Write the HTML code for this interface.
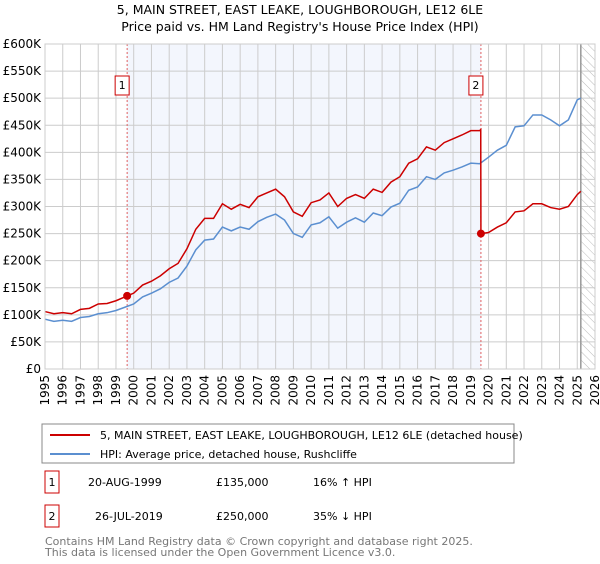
<!DOCTYPE html>
<html><head><meta charset="utf-8"><style>
body{margin:0;background:#fff;font-family:"DejaVu Sans","Liberation Sans",sans-serif;}
svg text{font-family:"DejaVu Sans","Liberation Sans",sans-serif;}
</style></head><body>
<svg width="600" height="560" viewBox="0 0 600 560" id="c">
<defs><pattern id="hatch" width="6" height="6" patternUnits="userSpaceOnUse" patternTransform="rotate(-45)"><line x1="0" y1="0" x2="0" y2="6" stroke="#bbb" stroke-width="1"/></pattern></defs>
<text x="300" y="14" text-anchor="middle" font-size="12.5">5, MAIN STREET, EAST LEAKE, LOUGHBOROUGH, LE12 6LE</text>
<text x="300" y="31" text-anchor="middle" font-size="12.5">Price paid vs. HM Land Registry's House Price Index (HPI)</text>
<g id="plot"></g>
<rect x="42" y="424" width="472" height="39" fill="#fff" stroke="#888"/>
<line x1="50" y1="435" x2="90" y2="435" stroke="#cc0000" stroke-width="2"/>
<text x="100" y="439" font-size="11">5, MAIN STREET, EAST LEAKE, LOUGHBOROUGH, LE12 6LE (detached house)</text>
<line x1="50" y1="454" x2="90" y2="454" stroke="#5b8fd0" stroke-width="2"/>
<text x="100" y="458" font-size="11">HPI: Average price, detached house, Rushcliffe</text>
<rect x="45" y="471" width="14" height="22" fill="#fff" stroke="#cc0000"/>
<text x="52" y="486" text-anchor="middle" font-size="11">1</text>
<text x="88" y="486" font-size="11">20-AUG-1999</text>
<text x="216" y="486" font-size="11">£135,000</text>
<text x="313" y="486" font-size="11">16% ↑ HPI</text>
<rect x="45" y="505" width="14" height="22" fill="#fff" stroke="#cc0000"/>
<text x="52" y="520" text-anchor="middle" font-size="11">2</text>
<text x="95" y="520" font-size="11">26-JUL-2019</text>
<text x="216" y="520" font-size="11">£250,000</text>
<text x="313" y="520" font-size="11">35% ↓ HPI</text>
<text x="45" y="545" font-size="11" fill="#777">Contains HM Land Registry data © Crown copyright and database right 2025.</text>
<text x="45" y="556" font-size="11" fill="#777">This data is licensed under the Open Government Licence v3.0.</text>
</svg>
<script>
const hpiYears=[1995,1995.5,1996,1996.5,1997,1997.5,1998,1998.5,1999,1999.5,2000,2000.5,2001,2001.5,2002,2002.5,2003,2003.5,2004,2004.5,2005,2005.5,2006,2006.5,2007,2007.5,2008,2008.5,2009,2009.5,2010,2010.5,2011,2011.5,2012,2012.5,2013,2013.5,2014,2014.5,2015,2015.5,2016,2016.5,2017,2017.5,2018,2018.5,2019,2019.5,2020,2020.5,2021,2021.5,2022,2022.5,2023,2023.5,2024,2024.5,2025,2025.2];
const hpiValues=[92,88,90,88,95,97,102,104,108,114,120,133,140,148,160,168,190,220,238,240,262,255,262,258,272,280,286,275,250,243,266,270,281,260,271,279,271,288,283,299,306,330,336,355,350,362,367,373,380,379,391,404,413,447,449,469,469,460,449,460,497,500];
const redYears=[1995,1995.5,1996,1996.5,1997,1997.5,1998,1998.5,1999,1999.5,1999.63,2000,2000.5,2001,2001.5,2002,2002.5,2003,2003.5,2004,2004.5,2005,2005.5,2006,2006.5,2007,2007.5,2008,2008.5,2009,2009.5,2010,2010.5,2011,2011.5,2012,2012.5,2013,2013.5,2014,2014.5,2015,2015.5,2016,2016.5,2017,2017.5,2018,2018.5,2019,2019.5,2019.56,2019.57,2020,2020.5,2021,2021.5,2022,2022.5,2023,2023.5,2024,2024.5,2025,2025.2];
const redValues=[106,102,104,102,110,112,120,121,126,133,135,140,155,162,172,185,195,222,258,278,278,305,295,304,298,318,325,332,318,290,282,307,312,325,300,315,322,315,332,326,345,355,380,388,410,404,418,425,432,440,440,442,250,252,262,270,290,292,305,305,298,295,300,322,328];
const saleYears=[1999.63,2019.57];
const saleValues=[135,250];
const saleLabels=["1","2"];
const yTicks=[0,50,100,150,200,250,300,350,400,450,500,550,600];
const yTickLabels=["£0","£50K","£100K","£150K","£200K","£250K","£300K","£350K","£400K","£450K","£500K","£550K","£600K"];
const xTicks=[1995,1996,1997,1998,1999,2000,2001,2002,2003,2004,2005,2006,2007,2008,2009,2010,2011,2012,2013,2014,2015,2016,2017,2018,2019,2020,2021,2022,2023,2024,2025,2026];
const dataEnd=2025.2;

const X0=45,X1=595,Y0=369,Y1=44;
const xs=y=>X0+(y-1995)/(2026-1995)*(X1-X0);
const ys=v=>Y0-v/600*(Y0-Y1);
const NS="http://www.w3.org/2000/svg";
const g=document.getElementById('plot');
function mk(t,a,p){const e=document.createElementNS(NS,t);for(const k in a)e.setAttribute(k,a[k]);(p||g).appendChild(e);return e;}
let e;
e=mk('rect',{x:xs(saleYears[0]),y:Y1,width:xs(saleYears[1])-xs(saleYears[0]),height:Y0-Y1,fill:'#f3f6fd'});


e=mk('rect',{x:xs(dataEnd),y:Y1,width:X1-xs(dataEnd),height:Y0-Y1,fill:'url(#hatch)'});


yTicks.forEach((v,i)=>{
 e=mk('line',{x1:X0,x2:X1,y1:ys(v),y2:ys(v),stroke:'#ccc','stroke-width':1});
 
 
 e=mk('text',{x:X0-4,y:ys(v)+4,'text-anchor':'end','font-size':12});
 e.textContent=yTickLabels[i];
 
 
});
xTicks.forEach(y=>{
 e=mk('line',{x1:xs(y),x2:xs(y),y1:Y1,y2:Y0,stroke:'#ccc','stroke-width':1});
 
 
 e=mk('text',{x:0,y:0,'text-anchor':'end','font-size':12,transform:`translate(${xs(y)+4},${Y0+6}) rotate(-90)`});
 e.textContent=y;
 
 
});
e=mk('line',{x1:xs(dataEnd),x2:xs(dataEnd),y1:Y1,y2:Y0,stroke:'#999','stroke-width':1.5});


saleYears.forEach((y,i)=>{
 e=mk('line',{x1:xs(y),x2:xs(y),y1:Y1,y2:Y0,stroke:'#e06060','stroke-width':1,'stroke-dasharray':'2,2'});
 
 
 e=mk('rect',{x:xs(y)-12,y:76,width:14,height:19,fill:'#fff',stroke:'#cc0000'});
 
 
 e=mk('text',{x:xs(y)-5,y:89,'text-anchor':'middle','font-size':11});
 e.textContent=saleLabels[i];
 
 
});
e=mk('polyline',{points:hpiYears.map((y,i)=>xs(y)+','+ys(hpiValues[i])).join(' '),fill:'none',stroke:'#5b8fd0','stroke-width':1.5});


e=mk('polyline',{points:redYears.map((y,i)=>xs(y)+','+ys(redValues[i])).join(' '),fill:'none',stroke:'#cc0000','stroke-width':1.5});


saleYears.forEach((y,i)=>{
 e=mk('circle',{cx:xs(y),cy:ys(saleValues[i]),r:4,fill:'#cc0000'});
 
 
});
e=mk('rect',{x:X0,y:Y1,width:X1-X0,height:Y0-Y1,fill:'none',stroke:'#ccc'});


</script>
</body></html>
